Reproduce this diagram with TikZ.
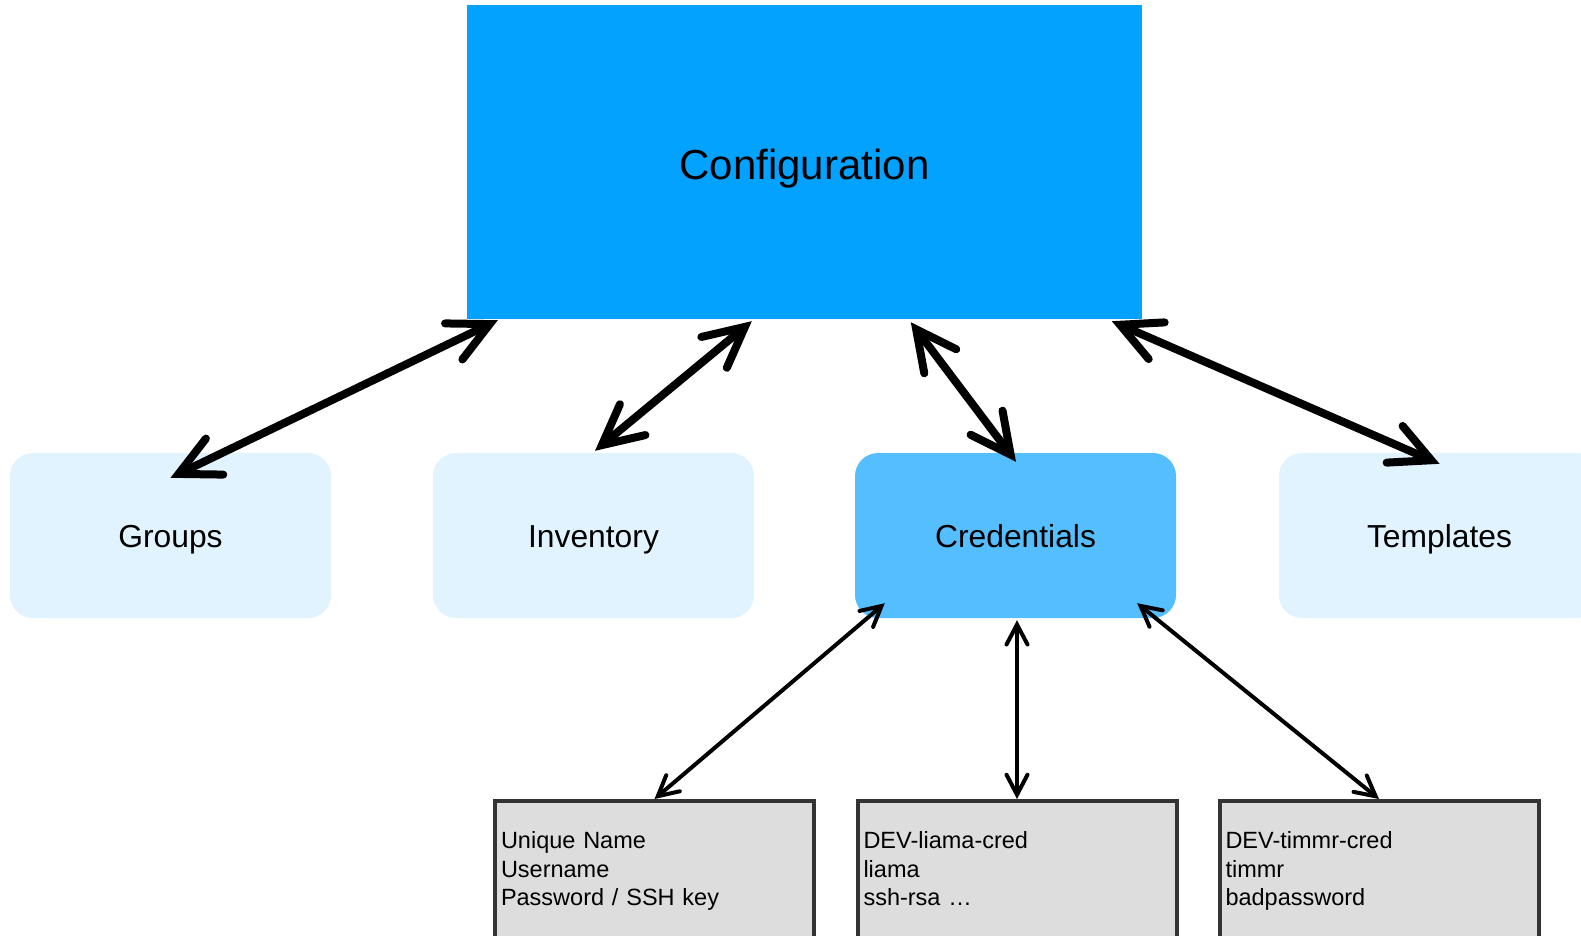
\documentclass[tikz,border=0pt]{standalone}
\usepackage{fontspec}
\setmainfont{Liberation Sans}
\usetikzlibrary{arrows.meta,calc}

\definecolor{cfgblue}{HTML}{03A2FF}
\definecolor{paleblue}{HTML}{E0F3FF}
\definecolor{midblue}{HTML}{55BEFF}
\definecolor{cardgray}{HTML}{DDDDDD}
\definecolor{cardline}{HTML}{333333}

\tikzset{
  mainbox/.style={fill=cfgblue, inner sep=0pt, minimum width=675pt, minimum height=314pt,
    text height=34pt, text depth=0pt, font=\fontsize{42}{50}\selectfont},
  areabox/.style={fill=paleblue, rounded corners=23pt, inner sep=0pt,
    minimum width=321pt, minimum height=165pt, text height=23pt, text depth=0pt,
    font=\fontsize{31.8}{38}\selectfont},
  activebox/.style={areabox, fill=midblue},
  cardbox/.style={fill=cardgray, draw=cardline, line width=4pt, inner xsep=6pt, inner ysep=0pt,
    minimum width=319pt, minimum height=141pt, text width=307pt, align=left,
    font=\fontsize{23.5}{28.5}\selectfont},
  bigarrow/.style={line width=8pt, black,
    {Straight Barb[length=40pt,width=40pt,line cap=round,line join=miter]}-{Straight Barb[length=40pt,width=40pt,line cap=round,line join=miter]}},
  smallarrow/.style={line width=4pt, black,
    {Straight Barb[length=20pt,width=21pt,line cap=round,line join=miter]}-{Straight Barb[length=20pt,width=21pt,line cap=round,line join=miter]}}
}

\begin{document}
\begin{tikzpicture}[x=1pt,y=-1pt]
  \useasboundingbox (0,0) rectangle (1581,935);

  % central configuration block
  \node[mainbox] (cfg) at (804.5,162) {Configuration};

  % second row
  \node[areabox]   (grp)  at (170.5,535.5)  {Groups};
  \node[areabox]   (inv)  at (593.5,535.5)  {Inventory};
  \node[activebox] (cred) at (1015.5,535.5) {Credentials};
  \node[areabox]   (tpl)  at (1439.5,535.5) {Templates};

  % credential cards
  \node[cardbox] (cb1) at (654.5,871.5) {\strut Unique Name\\Username\\Password / SSH key\strut};
  \node[cardbox] (cb2) at (1017,871.5)  {\strut DEV-liama-cred\\liama\\ssh-rsa …\strut};
  \node[cardbox] (cb3) at (1379,871.5)  {\strut DEV-timmr-cred\\timmr\\badpassword\strut};

  % links between configuration and the second row
  \draw[bigarrow] ($(cfg.south west)+(31,1)$)  -- ($(grp.north)+(0,25)$);
  \draw[bigarrow] ($(cfg.south west)+(285,2)$) -- ($(inv.north)+(1.5,-2)$);
  \draw[bigarrow] ($(cfg.south west)+(444,3)$) -- ($(cred.north)+(0.5,9)$);
  \draw[bigarrow] ($(cfg.south west)+(645,2)$) -- ($(tpl.north)+(0,11)$);

  % links between credentials and the cards
  \draw[smallarrow] ($(cred.south west)+(30,-15)$) -- (cb1.north);
  \draw[smallarrow] ($(cred.south)+(1.5,2)$)       -- (cb2.north);
  \draw[smallarrow] ($(cred.south east)+(-39,-15)$) -- (cb3.north);
\end{tikzpicture}
\end{document}
